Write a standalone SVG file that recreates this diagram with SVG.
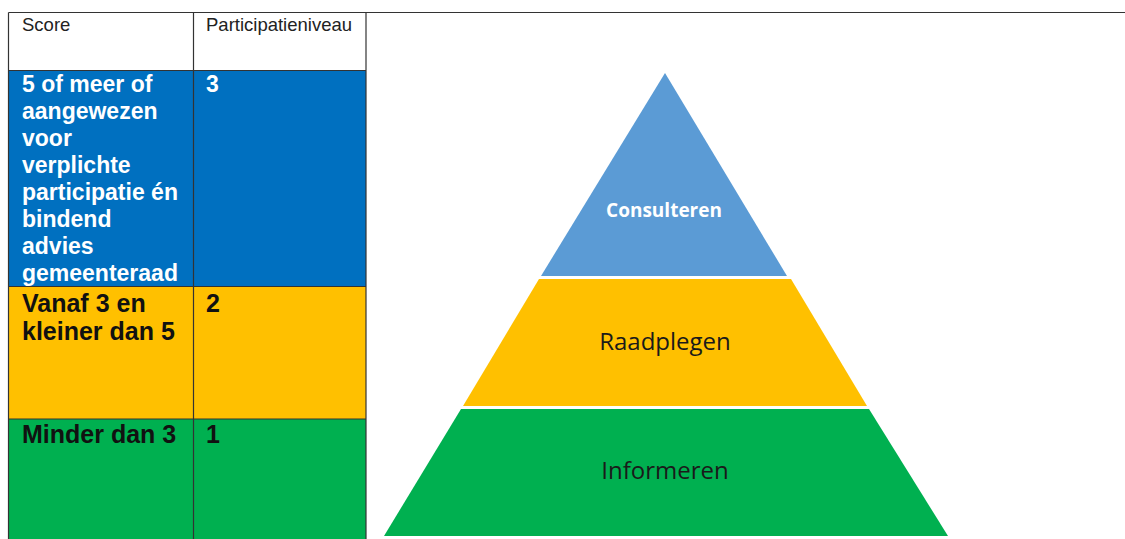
<svg xmlns="http://www.w3.org/2000/svg" width="1125" height="539" viewBox="0 0 1125 539">
  <style>
    .hdr { font-family: "Liberation Sans", Arial, sans-serif; font-size: 18.5px; fill: #222; }
    .tb { font-family: "Liberation Sans", Arial, sans-serif; font-weight: bold; }
    .blue { font-size: 23px; fill: #ffffff; }
    .dark { font-size: 25px; fill: #111111; }
    .grid { stroke: #333; stroke-width: 1.2; fill: none; }
    .pyr { font-family: "Open Sans", "Noto Sans", sans-serif; text-anchor: middle; }
  </style>
  <rect x="0" y="0" width="1125" height="539" fill="#ffffff"/>

  <g id="table">
    <g id="row-header">
      <rect x="8.5" y="12.5" width="357.5" height="58" fill="#ffffff"/>
      <text class="hdr" x="22" y="31">Score</text>
      <text class="hdr" x="206" y="31">Participatieniveau</text>
    </g>
    <g id="row-3">
      <rect x="8.5" y="70.5" width="357.5" height="216" fill="#0070C0"/>
      <text class="tb blue" x="22" y="92">5 of meer of</text>
      <text class="tb blue" x="22" y="119">aangewezen</text>
      <text class="tb blue" x="22" y="146">voor</text>
      <text class="tb blue" x="22" y="173">verplichte</text>
      <text class="tb blue" x="22" y="199.5">participatie én</text>
      <text class="tb blue" x="22" y="226.5">bindend</text>
      <text class="tb blue" x="22" y="253.5">advies</text>
      <text class="tb blue" x="22" y="280.5">gemeenteraad</text>
      <text class="tb blue" x="206" y="92">3</text>
    </g>
    <g id="row-2">
      <rect x="8.5" y="286.5" width="357.5" height="132.5" fill="#FFC000"/>
      <text class="tb dark" x="22" y="311.5">Vanaf 3 en</text>
      <text class="tb dark" x="22" y="340">kleiner dan 5</text>
      <text class="tb dark" x="206" y="311.5">2</text>
    </g>
    <g id="row-1">
      <rect x="8.5" y="419" width="357.5" height="121" fill="#00B050"/>
      <text class="tb dark" x="22" y="442.5">Minder dan 3</text>
      <text class="tb dark" x="206" y="442.5">1</text>
    </g>
    <g id="grid-lines">
      <line class="grid" x1="8.5" y1="12.5" x2="1125" y2="12.5" stroke="#555"/>
      <line class="grid" x1="8.5" y1="12.5" x2="8.5" y2="539"/>
      <line class="grid" x1="193.5" y1="12.5" x2="193.5" y2="539"/>
      <line class="grid" x1="366" y1="12.5" x2="366" y2="539" stroke="#666"/>
      <line class="grid" x1="8.5" y1="70.5" x2="366" y2="70.5"/>
      <line class="grid" x1="8.5" y1="286.5" x2="366" y2="286.5"/>
      <line class="grid" x1="8.5" y1="419" x2="366" y2="419"/>
    </g>
  </g>

  <g id="pyramid">
    <g id="level-consulteren">
      <polygon points="665,73 787,276 541,276" fill="#5B9BD5"/>
      <text class="pyr" x="664" y="217" font-size="19" font-weight="bold" fill="#ffffff">Consulteren</text>
    </g>
    <g id="level-raadplegen">
      <polygon points="539,279 791,279 867,406 463,406" fill="#FFC000"/>
      <text class="pyr" x="665" y="350" font-size="24" fill="#1a1a1a">Raadplegen</text>
    </g>
    <g id="level-informeren">
      <polygon points="461,409 869,409 948,536 384,536" fill="#00B050"/>
      <text class="pyr" x="665" y="479" font-size="24" fill="#1a1a1a">Informeren</text>
    </g>
  </g>
</svg>
